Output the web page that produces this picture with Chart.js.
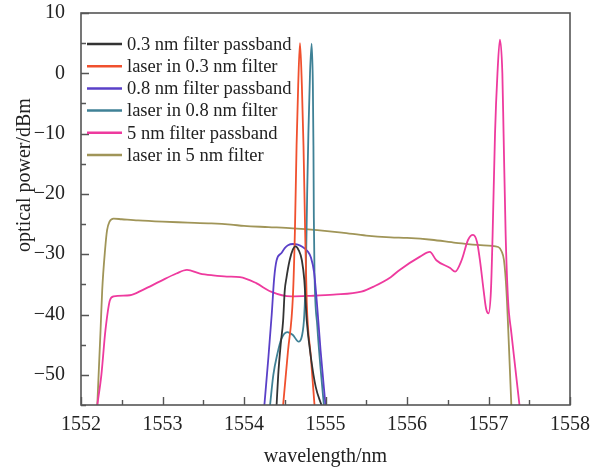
<!DOCTYPE html>
<html><head><meta charset="utf-8">
<script src="https://cdn.jsdelivr.net/npm/chart.js@4.4.1/dist/chart.umd.min.js"></script>
<style>html,body{margin:0;padding:0;background:#fff}canvas{display:block}</style>
</head><body>
<canvas id="c" width="591" height="470"></canvas>
<script>
// ---- data ----
const xTicks = [1552, 1553, 1554, 1555, 1556, 1557, 1558];
const yTicks = [10, 0, -10, -20, -30, -40, -50];
const seriesLabels = [
  "0.3 nm filter passband",
  "laser in 0.3 nm filter",
  "0.8 nm filter passband",
  "laser in 0.8 nm filter",
  "5 nm filter passband",
  "laser in 5 nm filter"
];
const seriesColors = ["#333333", "#f0502e", "#5a40c8", "#3f8196", "#ee3a9e", "#a09558"];

const wlFilter03 = [1554.40,1554.42,1554.45,1554.48,1554.50,1554.52,1554.56,1554.60,1554.63,1554.67,1554.71,1554.74,1554.77,1554.82,1554.88,1554.95];
const pwFilter03 = [-55,-50,-45,-41,-36,-34,-31,-29.2,-28.7,-29.3,-31,-34.3,-41,-47,-52,-55];

const wlLaser03 = [1554.48,1554.54,1554.60,1554.625,1554.645,1554.665,1554.687,1554.71,1554.73,1554.75,1554.77,1554.82,1554.865];
const pwLaser03 = [-55,-46,-37,-26,-12,-2,5.0,-2,-12,-26,-38,-47,-55];

const wlFilter08 = [1554.25,1554.30,1554.34,1554.37,1554.40,1554.46,1554.50,1554.54,1554.60,1554.66,1554.72,1554.78,1554.82,1554.86,1554.90,1554.94,1555.00];
const pwFilter08 = [-55,-47,-40,-34,-31,-29.8,-29,-28.5,-28.3,-28.4,-28.8,-29.5,-30.5,-33,-39,-46,-55];

const wlLaser08 = [1554.32,1554.36,1554.41,1554.46,1554.53,1554.60,1554.67,1554.71,1554.74,1554.76,1554.775,1554.79,1554.81,1554.83,1554.845,1554.852,1554.857,1554.865,1554.90,1554.94,1554.98];
const pwLaser08 = [-55,-50,-46.5,-44,-42.9,-43.4,-44.5,-43.6,-40,-32,-20,-10,0,4.9,-2,-12,-24,-33,-42,-49,-55];

const wlFilter5 = [1552.20,1552.25,1552.30,1552.356,1552.40,1552.60,1552.76,1552.97,1553.17,1553.30,1553.46,1553.62,1553.79,1553.95,1554.15,1554.33,1554.58,1554.82,1555.10,1555.44,1555.60,1555.80,1555.91,1556.16,1556.28,1556.36,1556.53,1556.59,1556.67,1556.75,1556.81,1556.86,1556.90,1556.94,1556.97,1557.00,1557.03,1557.05,1557.08,1557.11,1557.14,1557.17,1557.185,1557.21,1557.24,1557.28,1557.33,1557.38];
const pwFilter5 = [-55,-50,-42.6,-37.6,-37,-36.8,-35.9,-34.5,-33.2,-32.6,-33.2,-33.5,-33.7,-33.8,-34.8,-36.2,-37,-36.9,-36.7,-36.2,-35.3,-33.8,-32.6,-30.4,-29.6,-31,-32.3,-32.9,-31,-27.6,-26.8,-28,-31.5,-36,-39,-39.8,-36,-27,-10,0,5.6,0,-10,-26.5,-37.6,-43,-49,-55];

const wlLaser5 = [1552.20,1552.24,1552.26,1552.295,1552.32,1552.35,1552.40,1552.50,1552.70,1553.00,1553.31,1553.60,1553.84,1554.00,1554.30,1554.60,1554.90,1555.20,1555.50,1555.80,1556.00,1556.30,1556.60,1556.90,1557.12,1557.16,1557.19,1557.22,1557.25,1557.28];
const pwLaser5 = [-55,-42.6,-36,-29.3,-26,-24.6,-24.1,-24.2,-24.4,-24.6,-24.75,-24.9,-25.1,-25.3,-25.5,-25.7,-26,-26.4,-26.9,-27.2,-27.3,-27.6,-28.1,-28.5,-28.8,-29.5,-31,-36,-45,-55];

const seriesWl = [wlFilter03, wlLaser03, wlFilter08, wlLaser08, wlFilter5, wlLaser5];
const seriesPw = [pwFilter03, pwLaser03, pwFilter08, pwLaser08, pwFilter5, pwLaser5];

// ---- chart ----
const SERIF = "'Liberation Serif', 'Times New Roman', serif";
const datasets = seriesLabels.map((lab, i) => ({
  label: lab,
  data: seriesWl[i].map((w, k) => ({x: w, y: seriesPw[i][k]})),
  borderColor: seriesColors[i],
  backgroundColor: seriesColors[i],
  borderWidth: 1.8,
  pointRadius: 0,
  fill: false,
  cubicInterpolationMode: 'monotone'
}));

const decor = {
  id: 'decor',
  afterDraw(chart) {
    const ctx = chart.ctx;
    const a = chart.chartArea;
    const xs = chart.scales.x, ys = chart.scales.y;
    ctx.save();
    // frame
    ctx.strokeStyle = '#555';
    ctx.lineWidth = 1.6;
    ctx.strokeRect(a.left, a.top, a.right - a.left, a.bottom - a.top);
    // inward ticks
    ctx.lineWidth = 1.4;
    ctx.beginPath();
    for (let v = xTicks[0]; v <= xTicks[xTicks.length - 1] + 1e-9; v += 0.5) {
      const p = Math.round(xs.getPixelForValue(v)) + 0.5;
      const len = Math.abs(v - Math.round(v)) < 1e-6 ? 8 : 5;
      ctx.moveTo(p, a.bottom); ctx.lineTo(p, a.bottom - len);
    }
    for (let v = -55; v <= 10 + 1e-9; v += 5) {
      const p = Math.round(ys.getPixelForValue(v)) + 0.5;
      const len = (v % 10 === 0) ? 8 : 5;
      ctx.moveTo(a.left, p); ctx.lineTo(a.left + len, p);
    }
    ctx.stroke();
    // legend
    ctx.font = '18.5px ' + SERIF;
    ctx.textBaseline = 'middle';
    ctx.textAlign = 'left';
    chart.data.datasets.forEach((ds, i) => {
      const y = 45 + 22.2 * i;
      ctx.strokeStyle = ds.borderColor;
      ctx.lineWidth = 2.5;
      ctx.beginPath();
      ctx.moveTo(87, y - 1); ctx.lineTo(122, y - 1);
      ctx.stroke();
      ctx.fillStyle = '#222';
      ctx.fillText(ds.label, 127, y);
    });
    // axis titles
    ctx.font = '20px ' + SERIF;
    ctx.fillStyle = '#222';
    ctx.textAlign = 'center';
    ctx.textBaseline = 'middle';
    ctx.fillText('wavelength/nm', (a.left + a.right) / 2, 457);
    ctx.translate(25, 175);
    ctx.rotate(-Math.PI / 2);
    ctx.fillText('optical power/dBm', 0, 0);
    ctx.restore();
  }
};

new Chart(document.getElementById('c'), {
  type: 'line',
  data: {datasets},
  options: {
    responsive: false,
    animation: false,
    devicePixelRatio: 1,
    layout: {padding: {top: 13, right: 21, left: 0, bottom: 0}},
    plugins: {legend: {display: false}, tooltip: {enabled: false}},
    scales: {
      x: {
        type: 'linear',
        min: xTicks[0], max: xTicks[xTicks.length - 1],
        grid: {display: false, drawTicks: false},
        border: {display: false},
        afterFit(s) { s.height = 65; s.paddingLeft = 0; s.paddingRight = 0; },
        afterBuildTicks(s) { s.ticks = xTicks.map(v => ({value: v})); },
        ticks: {
          padding: 8,
          color: '#222',
          font: {family: SERIF, size: 20},
          maxRotation: 0,
          callback: v => String(v)
        }
      },
      y: {
        type: 'linear',
        min: -55, max: 10,
        grid: {display: false, drawTicks: false},
        border: {display: false},
        afterFit(s) { s.width = 81; s.paddingTop = 0; s.paddingBottom = 0; },
        afterBuildTicks(s) { s.ticks = yTicks.slice().reverse().map(v => ({value: v})); },
        ticks: {
          padding: 16,
          color: '#222',
          font: {family: SERIF, size: 20},
          callback: v => (v < 0 ? '\u2212' + Math.abs(v) : String(v))
        }
      }
    }
  },
  plugins: [decor]
});
</script>
</body></html>
